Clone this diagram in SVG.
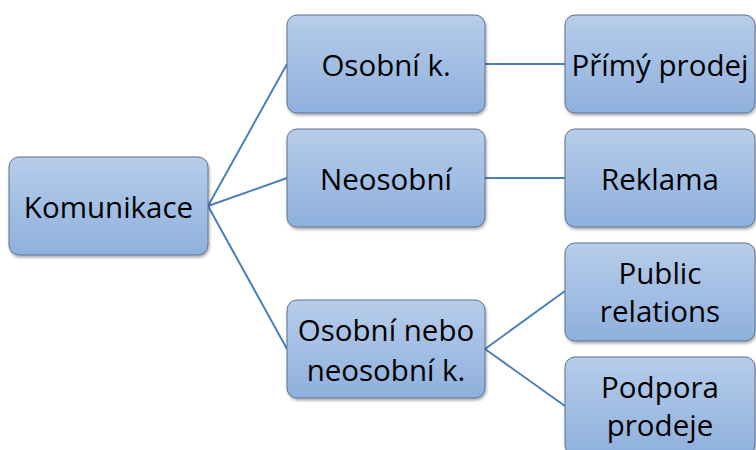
<svg xmlns="http://www.w3.org/2000/svg" width="756" height="450" viewBox="0 0 756 450">
<defs>
<linearGradient id="g" x1="0" y1="0" x2="0" y2="1">
<stop offset="0" stop-color="#b7cdea"/>
<stop offset="1" stop-color="#8eb0dd"/>
</linearGradient>
<filter id="sh" x="-10%" y="-10%" width="125%" height="130%">
<feDropShadow dx="1" dy="2" stdDeviation="1.5" flood-color="#000" flood-opacity="0.35"/>
</filter>
<style>
.box{fill:url(#g);stroke:#5f738f;stroke-width:1;filter:url(#sh)}
.t{font-family:"Open Sans","Noto Sans","Liberation Sans",sans-serif;font-size:29.5px;fill:#000;text-anchor:middle;dominant-baseline:central}
.c{stroke:#4a7ebb;stroke-width:2;fill:none}
</style>
</defs>
<rect width="756" height="450" fill="#fff"/>
<g id="connectors">
<line class="c" x1="208" y1="206" x2="287" y2="64"/>
<line class="c" x1="208" y1="206" x2="287" y2="178"/>
<line class="c" x1="208" y1="206" x2="287" y2="349"/>
<line class="c" x1="485" y1="64" x2="565" y2="64"/>
<line class="c" x1="485" y1="178" x2="565" y2="178"/>
<line class="c" x1="485" y1="349" x2="565" y2="291"/>
<line class="c" x1="485" y1="349" x2="565" y2="406"/>
</g>
<g id="komunikace"><rect class="box" x="9" y="157" width="199" height="98" rx="10"/><text class="t" x="108.5" y="206">Komunikace</text></g>
<g id="osobni"><rect class="box" x="287" y="15" width="198" height="98" rx="10"/><text class="t" x="386" y="64">Osobní k.</text></g>
<g id="neosobni"><rect class="box" x="287" y="129" width="198" height="98" rx="10"/><text class="t" x="386" y="178">Neosobní</text></g>
<g id="osobni-nebo"><rect class="box" x="287" y="300" width="198" height="98" rx="10"/><text class="t" x="386" y="329">Osobní nebo</text><text class="t" x="386" y="369">neosobní k.</text></g>
<g id="primy-prodej"><rect class="box" x="565" y="15" width="190" height="98" rx="10"/><text class="t" x="660" y="64">Přímý prodej</text></g>
<g id="reklama"><rect class="box" x="565" y="129" width="190" height="98" rx="10"/><text class="t" x="660" y="178">Reklama</text></g>
<g id="public-relations"><rect class="box" x="565" y="243" width="190" height="98" rx="10"/><text class="t" x="660" y="272">Public</text><text class="t" x="660" y="310">relations</text></g>
<g id="podpora-prodeje"><rect class="box" x="565" y="357" width="190" height="98" rx="10"/><text class="t" x="660" y="386">Podpora</text><text class="t" x="660" y="424">prodeje</text></g>
</svg>
